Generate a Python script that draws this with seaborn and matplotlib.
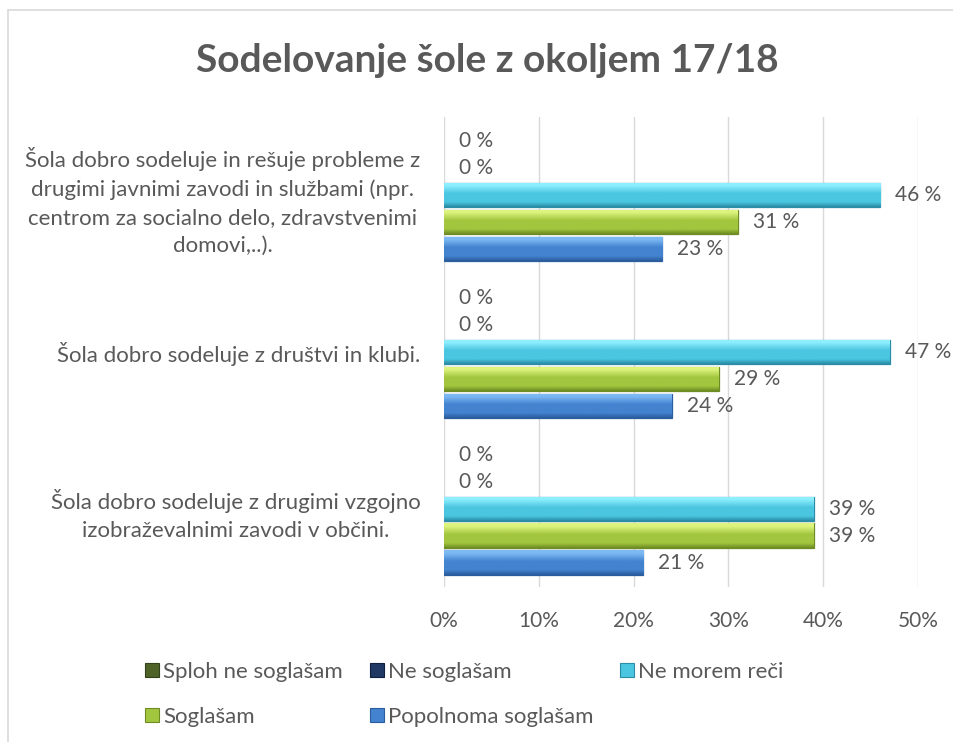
import matplotlib
matplotlib.use("Agg")
import matplotlib.pyplot as plt
from matplotlib.colors import LinearSegmentedColormap
from matplotlib.lines import Line2D
from matplotlib.patches import Patch
import seaborn as sns
import numpy as np
import pandas as pd

# podatki
categories = [
    "Šola dobro sodeluje in rešuje probleme z\ndrugimi javnimi zavodi in službami (npr.\ncentrom za socialno delo, zdravstvenimi\ndomovi,..).",
    "Šola dobro sodeluje z društvi in klubi.",
    "Šola dobro sodeluje z drugimi vzgojno\nizobraževalnimi zavodi v občini.",
]
series = ["Sploh ne soglašam", "Ne soglašam", "Ne morem reči", "Soglašam", "Popolnoma soglašam"]
sploh_ne = [0, 0, 0]
ne_soglasam = [0, 0, 0]
ne_morem = [46, 47, 39]
soglasam = [31, 29, 39]
popolnoma = [23, 24, 21]
ticks = [0, 10, 20, 30, 40, 50]

# svetla, srednja, temna barva za vsak odgovor
shades = [
    ("#8AA44F", "#4F6228", "#33421A"),
    ("#4A6EA8", "#1F3864", "#0F1F3C"),
    ("#8EEFFF", "#4BC6E0", "#2A8CA6"),
    ("#DDF47E", "#A3C63F", "#6E8C24"),
    ("#7DBAF4", "#4383CF", "#2A5C9E"),
]
fills = [s[1] for s in shades]
edges = [s[2] for s in shades]

all_vals = [sploh_ne, ne_soglasam, ne_morem, soglasam, popolnoma]
rows = []
for s, vals in zip(series, all_vals):
    for c, v in zip(categories, vals):
        rows.append({"kat": c, "odgovor": s, "delez": v})
df = pd.DataFrame(rows)

sns.set_style("white")
plt.rcParams["font.family"] = ["Lato", "DejaVu Sans"]
grey = "#595959"

fig = plt.figure(figsize=(9.54, 7.42), dpi=100)
W, H = 954, 742
ax = fig.add_axes([444 / W, 1 - 587 / H, (918 - 444) / W, (587 - 117) / H])

sns.barplot(data=df, x="delez", y="kat", hue="odgovor", order=categories,
            hue_order=series, palette=dict(zip(series, fills)), saturation=1,
            orient="h", width=0.86, gap=0.1, ax=ax, legend=False)

ax.set_xlim(0, 50)
ylim = ax.get_ylim()

# preliv na stolpcih (posnema excelov reliefni videz)
for cont, (light, mid, dark), vals in zip(ax.containers, shades, all_vals):
    cmap = LinearSegmentedColormap.from_list("b", [(0, light), (0.12, light), (0.45, mid),
                                                   (0.8, mid), (1, dark)])
    grad = np.linspace(0, 1, 64).reshape(-1, 1)
    for p in cont:
        p.set_edgecolor(dark)
        if p.get_width() == 0:
            p.set_linewidth(0)
            continue
        p.set_linewidth(0.9)
        x0, y0 = p.get_x(), p.get_y()
        w, h = p.get_width(), p.get_height()
        im = ax.imshow(grad, cmap=cmap, aspect="auto", origin="upper",
                       extent=(x0, x0 + w, y0 + h, y0), zorder=p.get_zorder() + 0.1)
        im.set_clip_path(p)
    ax.bar_label(cont, labels=[f"{v} %" for v in vals], padding=11,
                 fontsize=15, color=grey)

ax.set_xlim(0, 50)
ax.set_ylim(ylim)
ax.set_xticks(ticks)
ax.set_xticklabels([f"{t}%" for t in ticks])
ax.set_xlabel("")
ax.set_ylabel("")
ax.grid(axis="x", color="#D9D9D9", linewidth=1)
ax.set_axisbelow(True)
for s in ax.spines.values():
    s.set_visible(False)
ax.tick_params(axis="x", length=0, pad=17, labelsize=15, labelcolor=grey)
ax.tick_params(axis="y", length=0, pad=17, labelsize=16, labelcolor=grey)
for lab in ax.get_yticklabels():
    lab.set_multialignment("center")
    lab.set_linespacing(1.5)

fig.text(487 / W, 1 - 72 / H, "Sodelovanje šole z okoljem 17/18", ha="center", va="baseline",
         fontsize=28, fontweight="bold", color=grey)

# legenda po vrsticah: matplotlib polni stolpce, zato preuredimo
handles = [Patch(facecolor=f, edgecolor=e, linewidth=0.8) for f, e in zip(fills, edges)]
order = [0, 3, 1, 4, 2]
fig.legend([handles[i] for i in order], [series[i] for i in order], ncol=3,
           loc="upper left", bbox_to_anchor=(134 / W, 1 - 651 / H), borderpad=0,
           frameon=False, fontsize=16, labelcolor=grey, handlelength=0.62,
           handleheight=0.6, handletextpad=0.2, columnspacing=1.2, labelspacing=1.12)

# okvir grafikona
fig.add_artist(Line2D([8 / W, 8 / W], [0, 1 - 10 / H], color="#D9D9D9", linewidth=1.2))
fig.add_artist(Line2D([8 / W, 1], [1 - 10 / H, 1 - 10 / H], color="#D9D9D9", linewidth=1.2))

fig.savefig("out.png", dpi=100)
